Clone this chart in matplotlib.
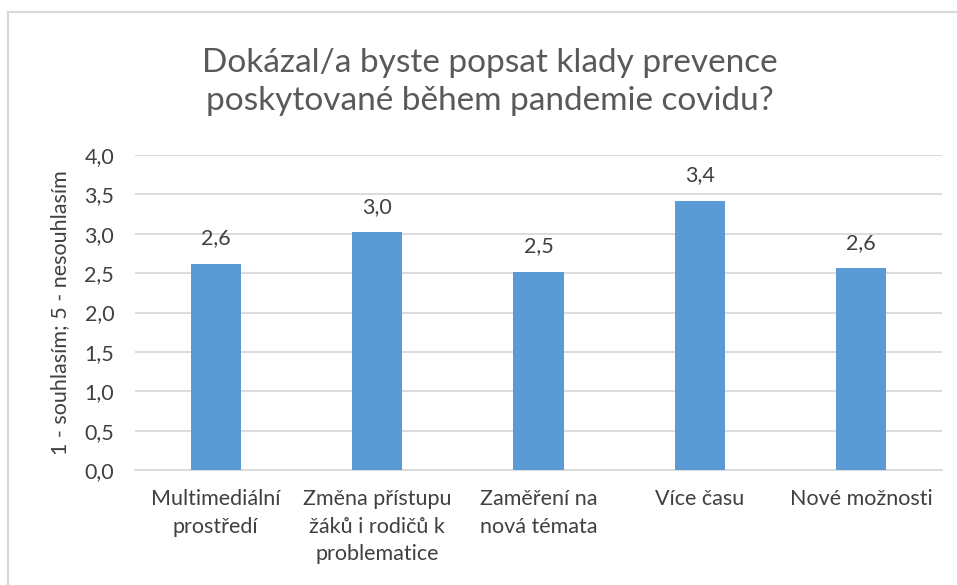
import matplotlib
matplotlib.use("Agg")
import matplotlib.pyplot as plt
from matplotlib.lines import Line2D

categories = ["Multimediální\nprostředí", "Změna přístupu\nžáků i rodičů k\nproblematice",
              "Zaměření na\nnová témata", "Více času", "Nové možnosti"]
values = [2.62, 3.02, 2.52, 3.42, 2.56]
labels = ["2,6", "3,0", "2,5", "3,4", "2,6"]
yticks = [0.0, 0.5, 1.0, 1.5, 2.0, 2.5, 3.0, 3.5, 4.0]
ytick_labels = ["0,0", "0,5", "1,0", "1,5", "2,0", "2,5", "3,0", "3,5", "4,0"]

plt.rcParams['font.family'] = ['Lato', 'DejaVu Sans']
W, H = 957, 585
fig = plt.figure(figsize=(W/100, H/100), dpi=100)
# outer chart frame (left and top edges visible)
fig.lines.append(Line2D([8/W, 8/W], [0, 1-12/H], transform=fig.transFigure, color='#d9d9d9', lw=1.5))
fig.lines.append(Line2D([8/W, 1], [1-12/H, 1-12/H], transform=fig.transFigure, color='#d9d9d9', lw=1.5))

ax = fig.add_axes([135/W, (H-470)/H, (942-135)/W, (470-155)/H])
x = list(range(len(categories)))
ax.bar(x, values, width=0.31, color='#5b9bd5', zorder=3)
ax.set_xlim(-0.5, len(categories)-0.5)
ax.set_ylim(0, 4.0)
ax.set_yticks(yticks)
ax.set_yticklabels(ytick_labels, fontsize=15.5, color='#404040')
ax.set_xticks(x)
ax.set_xticklabels(categories, fontsize=15.5, color='#404040', linespacing=1.45)
ax.tick_params(length=0)
ax.tick_params(axis='y', pad=15)
ax.tick_params(axis='x', pad=14)
ax.yaxis.grid(True, color='#d9d9d9', linewidth=1.3, zorder=0)
for s in ['top', 'right', 'left']:
    ax.spines[s].set_visible(False)
ax.spines['bottom'].set_color('#d9d9d9')
ax.spines['bottom'].set_linewidth(1.3)
for xi, v, lab in zip(x, values, labels):
    ax.annotate(lab, (xi, v), xytext=(0, 11), textcoords='offset points',
                ha='center', va='bottom', fontsize=15.5, color='#404040')
ax.set_ylabel("1 - souhlasím; 5 - nesouhlasím", fontsize=15.5, color='#404040', labelpad=10)
fig.text(490/W, 1-82/H, "Dokázal/a byste popsat klady prevence\nposkytované během pandemie covidu?",
         ha='center', va='center', fontsize=24, color='#595959', linespacing=1.3)
fig.savefig("out.png", dpi=100)
